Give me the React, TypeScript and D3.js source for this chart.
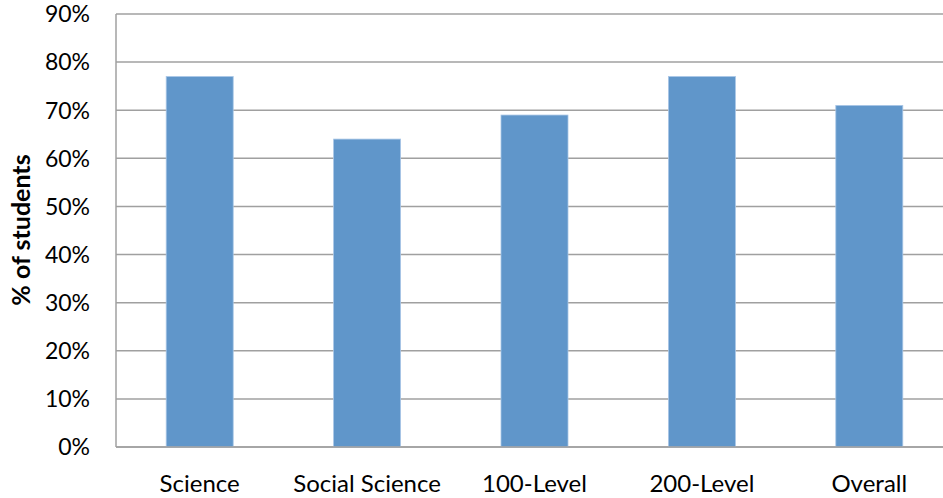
import React, { useEffect, useRef } from "react";
import * as d3 from "d3";

// chart data
const categories = ["Science", "Social Science", "100-Level", "200-Level", "Overall"];
const percentages = [77, 64, 69, 77, 71];
const yTicks = [0, 10, 20, 30, 40, 50, 60, 70, 80, 90];

const width = 943,
  height = 498;

const App = () => {
  const ref = useRef<SVGSVGElement>(null);

  useEffect(() => {
    const svg = d3.select(ref.current);
    svg.selectAll("*").remove();

    const left = 116,
      top = 14,
      bottom = 447,
      right = 953;
    const font = "Lato, 'Open Sans', sans-serif";

    const x = d3.scaleBand<string>().domain(categories).range([left, right]);
    const y = d3.scaleLinear().domain([0, 90]).range([bottom, top]);
    const barW = 67;

    // gridlines
    svg
      .append("g")
      .selectAll("line")
      .data(yTicks)
      .enter()
      .append("line")
      .attr("x1", left)
      .attr("x2", right)
      .attr("y1", (d) => y(d))
      .attr("y2", (d) => y(d))
      .attr("stroke", "#a0a0a0")
      .attr("stroke-width", 1.5);

    // y axis line
    svg
      .append("line")
      .attr("x1", left)
      .attr("x2", left)
      .attr("y1", top)
      .attr("y2", bottom)
      .attr("stroke", "#a0a0a0")
      .attr("stroke-width", 1.5);

    // bars
    svg
      .append("g")
      .selectAll("rect")
      .data(percentages)
      .enter()
      .append("rect")
      .attr("x", (d, i) => x(categories[i])! + x.bandwidth() / 2 - barW / 2)
      .attr("width", barW)
      .attr("y", (d) => y(d))
      .attr("height", (d) => bottom - y(d))
      .attr("fill", "#6096ca")
      .attr("stroke", "#a9c6e6")
      .attr("stroke-width", 0.8);

    // redraw baseline over bars
    svg
      .append("line")
      .attr("x1", left)
      .attr("x2", right)
      .attr("y1", bottom)
      .attr("y2", bottom)
      .attr("stroke", "#a0a0a0")
      .attr("stroke-width", 1.5);

    // y tick labels
    svg
      .append("g")
      .selectAll("text")
      .data(yTicks)
      .enter()
      .append("text")
      .attr("x", 90)
      .attr("y", (d) => y(d))
      .attr("dy", "0.36em")
      .attr("text-anchor", "end")
      .attr("font-family", font)
      .attr("font-size", 23)
      .attr("fill", "#000")
      .text((d) => d + "%");

    // category labels
    svg
      .append("g")
      .selectAll("text")
      .data(categories)
      .enter()
      .append("text")
      .attr("x", (d) => x(d)! + x.bandwidth() / 2)
      .attr("y", 492)
      .attr("text-anchor", "middle")
      .attr("font-family", font)
      .attr("font-size", 24)
      .attr("fill", "#000")
      .text((d) => d);

    // y axis title
    svg
      .append("text")
      .attr("transform", "translate(30,230) rotate(-90)")
      .attr("text-anchor", "middle")
      .attr("font-family", font)
      .attr("font-weight", "bold")
      .attr("font-size", 25)
      .attr("fill", "#000")
      .text("% of students");
  }, []);

  return (
    <svg
      ref={ref}
      width={width}
      height={height}
      style={{ position: "absolute", left: 0, top: 0, background: "#fff" }}
    />
  );
};

export default App;
